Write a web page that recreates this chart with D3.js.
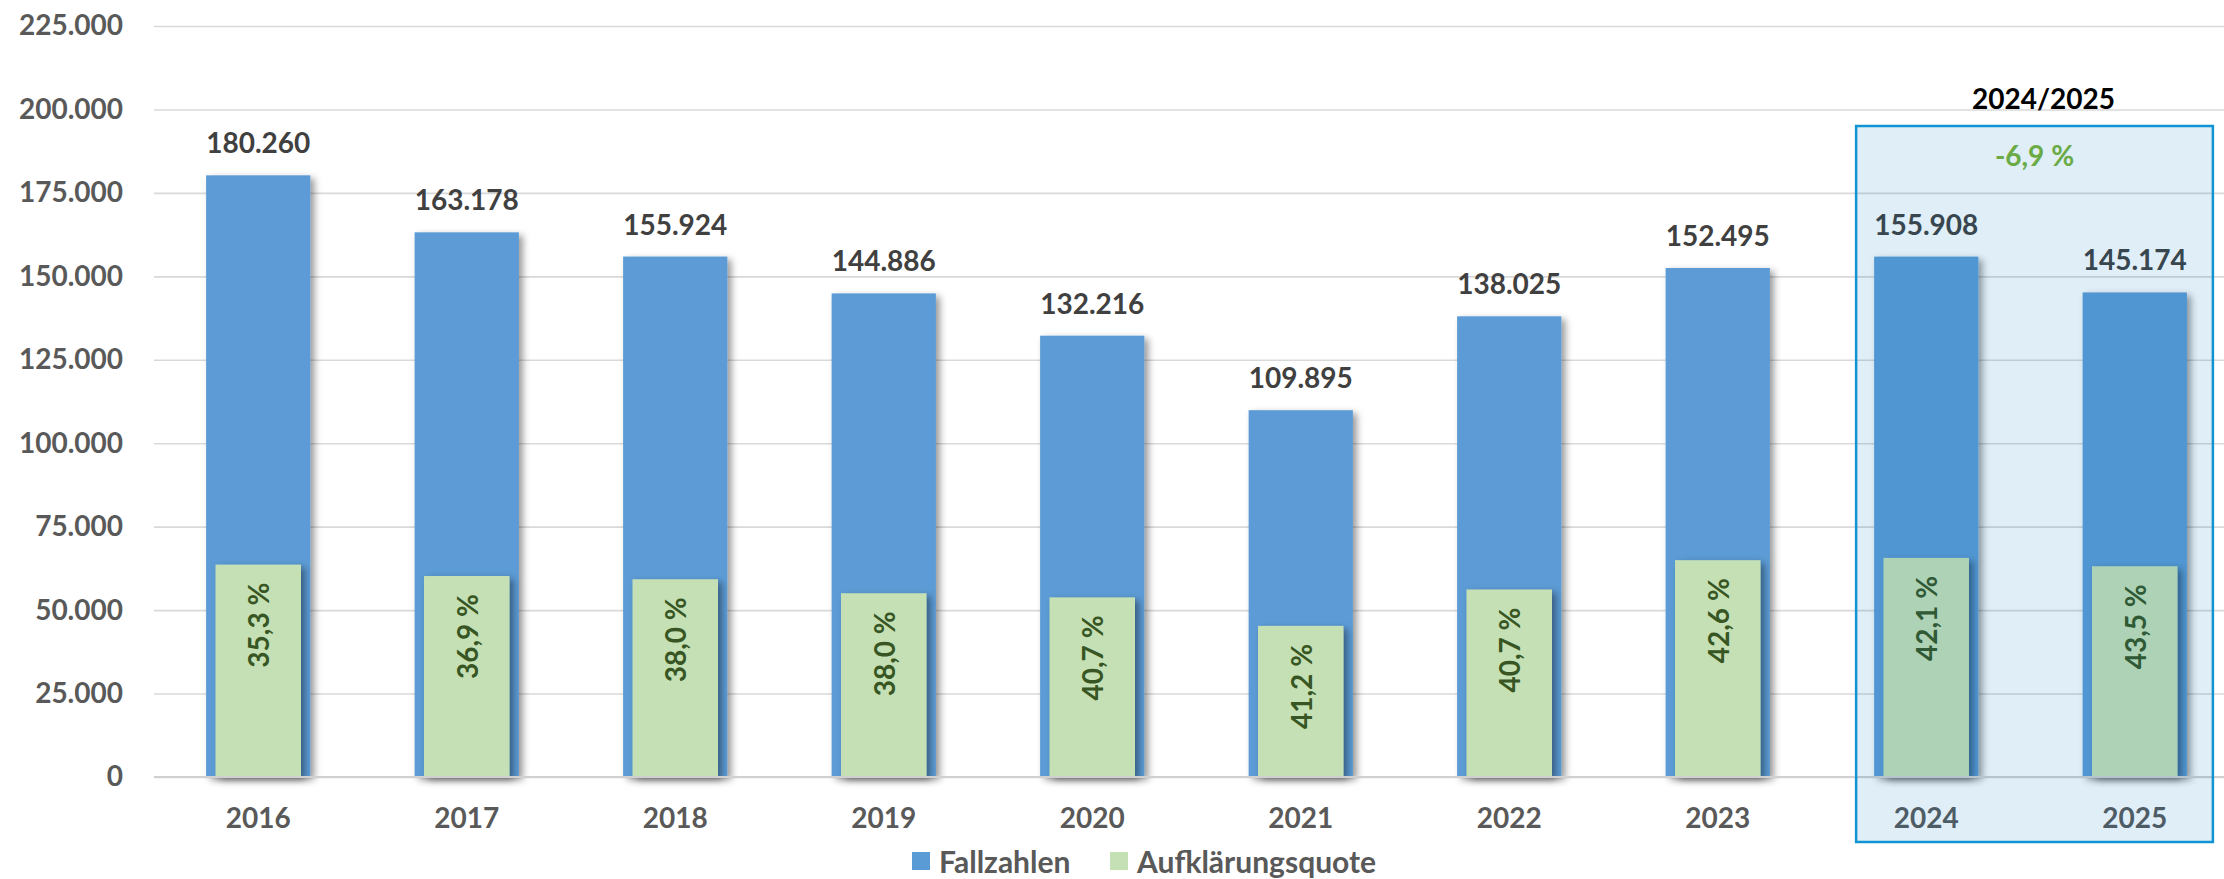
<!DOCTYPE html>
<html>
<head>
<meta charset="utf-8">
<script src="https://cdn.jsdelivr.net/npm/d3@7"></script>
<style>
  body { margin: 0; background: #fff; }
  svg text { font-family: Lato, "Open Sans", sans-serif; font-weight: 700; }
</style>
</head>
<body>
<div id="chart"></div>
<script>
// DATA
//=====================
var jahre = ["2016", "2017", "2018", "2019", "2020", "2021", "2022", "2023", "2024", "2025"];
var fallzahlen = [180260, 163178, 155924, 144886, 132216, 109895, 138025, 152495, 155908, 145174];
var quote = [35.3, 36.9, 38.0, 38.0, 40.7, 41.2, 40.7, 42.6, 42.1, 43.5];
var yTicks = [0, 25000, 50000, 75000, 100000, 125000, 150000, 175000, 200000, 225000];
var legende = ["Fallzahlen", "Aufklärungsquote"];

var svgWidth = 2224;
var svgHeight = 879;

var de = d3.formatLocale({ decimal: ",", thousands: ".", grouping: [3], currency: ["", " €"], minus: "-" });
var fmtInt = de.format(",d");
var fmtPct = de.format(".1f");

var svg = d3.select("#chart")
    .append("svg")
    .attr("width", svgWidth)
    .attr("height", svgHeight);

// shadow for the bars
var defs = svg.append("defs");
var shadow = defs.append("filter")
    .attr("id", "shadow")
    .attr("x", "-30%").attr("y", "-10%")
    .attr("width", "160%").attr("height", "120%");
shadow.append("feDropShadow")
    .attr("dx", 4).attr("dy", 3)
    .attr("stdDeviation", 3.5)
    .attr("flood-color", "#000")
    .attr("flood-opacity", 0.4);

// SCALES
//=====================
var xScale = d3.scaleBand()
    .domain(jahre)
    .range([154, 2239])
    .paddingInner(0.5)
    .paddingOuter(0.25);

var yScale = d3.scaleLinear()
    .domain([0, 225000])
    .range([777, 26]);

// GRIDLINES + Y AXIS
//=====================
var grid = svg.append("g")
    .attr("transform", "translate(154,0)")
    .call(d3.axisLeft(yScale).tickValues(yTicks).tickSize(-2080).tickFormat(""));
grid.select(".domain").remove();
grid.selectAll("line")
    .attr("stroke", "#d9d9d9")
    .attr("stroke-width", 1.6);

var yAxis = svg.append("g")
    .attr("transform", "translate(154,0)")
    .call(d3.axisLeft(yScale).tickValues(yTicks).tickSize(0).tickPadding(31).tickFormat(fmtInt));
yAxis.select(".domain").remove();
yAxis.selectAll("text")
    .attr("fill", "#595959")
    .style("font-size", "28px");

// BARS
//=====================
var bw = xScale.bandwidth();
var innerW = bw * 0.82;

svg.append("g").selectAll("rect")
    .data(jahre)
    .enter()
    .append("rect")
    .attr("x", d => xScale(d))
    .attr("y", (d, i) => yScale(fallzahlen[i]))
    .attr("width", bw)
    .attr("height", (d, i) => yScale(0) - yScale(fallzahlen[i]))
    .attr("fill", "#5b9bd5")
    .attr("filter", "url(#shadow)");

// aufgeklaerte Faelle = Fallzahlen * Quote
var aufgeklaert = fallzahlen.map((v, i) => v * quote[i] / 100);

svg.append("g").selectAll("rect")
    .data(jahre)
    .enter()
    .append("rect")
    .attr("x", d => xScale(d) + (bw - innerW) / 2)
    .attr("y", (d, i) => yScale(aufgeklaert[i]))
    .attr("width", innerW)
    .attr("height", (d, i) => yScale(0) - yScale(aufgeklaert[i]))
    .attr("fill", "#c5e0b4")
    .attr("filter", "url(#shadow)");

// zero line
svg.append("line")
    .attr("x1", 154).attr("x2", svgWidth)
    .attr("y1", yScale(0)).attr("y2", yScale(0))
    .attr("stroke", "#d0d0d0")
    .attr("stroke-width", 2);

// LABELS
//=====================
svg.append("g").selectAll("text")
    .data(jahre)
    .enter()
    .append("text")
    .attr("x", d => xScale(d) + bw / 2)
    .attr("y", (d, i) => yScale(fallzahlen[i]) - 22)
    .attr("text-anchor", "middle")
    .attr("fill", "#404040")
    .style("font-size", "28px")
    .text((d, i) => fmtInt(fallzahlen[i]));

svg.append("g").selectAll("text")
    .data(jahre)
    .enter()
    .append("text")
    .attr("transform", (d, i) => `translate(${xScale(d) + bw / 2}, ${yScale(aufgeklaert[i]) + 18}) rotate(-90)`)
    .attr("text-anchor", "end")
    .attr("dominant-baseline", "central")
    .attr("fill", "#375623")
    .style("font-size", "28px")
    .text((d, i) => fmtPct(quote[i]) + " %");

// x axis labels
svg.append("g").selectAll("text")
    .data(jahre)
    .enter()
    .append("text")
    .attr("x", d => xScale(d) + bw / 2)
    .attr("y", 828)
    .attr("text-anchor", "middle")
    .attr("fill", "#595959")
    .style("font-size", "28px")
    .text(d => d);

// HIGHLIGHT BOX 2024/2025
//=====================
var boxX0 = xScale("2024") - 18;
var boxX1 = xScale("2025") + bw + 26;

svg.append("rect")
    .attr("x", boxX0)
    .attr("y", 126)
    .attr("width", boxX1 - boxX0)
    .attr("height", 716)
    .attr("fill", "rgb(0,116,189)")
    .attr("fill-opacity", 0.122)
    .attr("stroke", "#0f93d2")
    .attr("stroke-width", 2.5);

svg.append("text")
    .attr("x", (boxX0 + boxX1) / 2 + 9)
    .attr("y", 109)
    .attr("text-anchor", "middle")
    .attr("fill", "#000")
    .style("font-size", "28px")
    .text("2024/2025");

var change = (fallzahlen[9] - fallzahlen[8]) / fallzahlen[8] * 100;
svg.append("text")
    .attr("x", (boxX0 + boxX1) / 2)
    .attr("y", 166)
    .attr("text-anchor", "middle")
    .attr("fill", "#6aab46")
    .style("font-size", "28px")
    .text(fmtPct(change) + " %");

// LEGEND
//=====================
var legendColors = ["#5b9bd5", "#c5e0b4"];
var legendX = [912, 1110];

var legend = svg.append("g").selectAll("g")
    .data(legende)
    .enter()
    .append("g")
    .attr("transform", (d, i) => `translate(${legendX[i]}, 852)`);

legend.append("rect")
    .attr("width", 18)
    .attr("height", 18)
    .attr("fill", (d, i) => legendColors[i]);

legend.append("text")
    .attr("x", 27)
    .attr("y", 21)
    .attr("fill", "#595959")
    .style("font-size", "30px")
    .text(d => d);
</script>
</body>
</html>
